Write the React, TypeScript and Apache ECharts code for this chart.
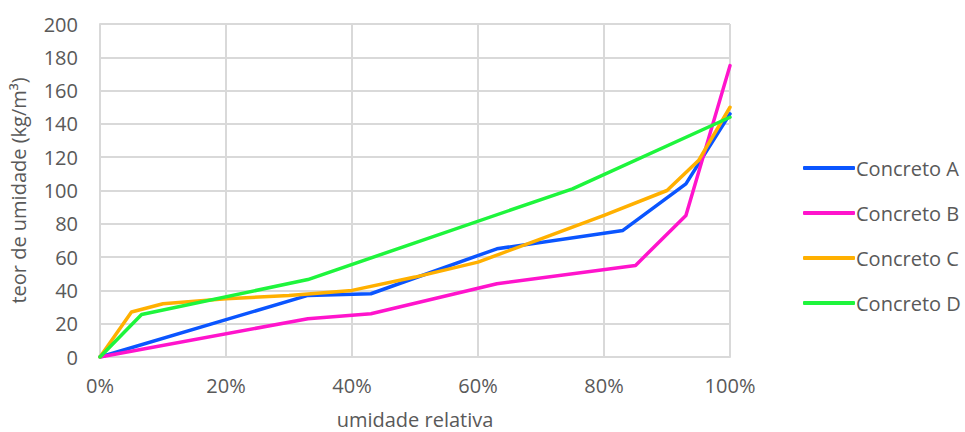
import React, { useEffect, useRef } from "react";
import * as echarts from "echarts";

const seriesNames = ["Concreto A", "Concreto B", "Concreto C", "Concreto D"];
const colors = ["#0A55FF", "#FF14CC", "#FFB000", "#1EF53C"];

const xA = [0, 0.33, 0.43, 0.63, 0.83, 0.93, 1.0];
const yA = [0, 37, 38, 65, 76, 104, 146];

const xB = [0, 0.33, 0.43, 0.63, 0.85, 0.93, 1.0];
const yB = [0, 23, 26, 44, 55, 85, 175];

const xC = [0, 0.05, 0.1, 0.2, 0.3, 0.4, 0.5, 0.6, 0.7, 0.8, 0.9, 0.95, 1.0];
const yC = [0, 27, 32, 35, 37, 40, 48, 57, 71, 85, 100, 118, 150];

const xD = [0, 0.066, 0.33, 0.75, 1.0];
const yD = [0, 25.5, 46.5, 101, 144];

const xTicks = [0, 0.2, 0.4, 0.6, 0.8, 1.0];
const yTicks = [0, 20, 40, 60, 80, 100, 120, 140, 160, 180, 200];

const allX = [xA, xB, xC, xD];
const allY = [yA, yB, yC, yD];

const FONT = "'Open Sans', 'Noto Sans', sans-serif";
const TXT = "#595959";
const FS = 20;

export default function App() {
  const ref = useRef<HTMLDivElement>(null);
  useEffect(() => {
    if (!ref.current) return;
    const chart = echarts.init(ref.current, null, { renderer: "svg" });
    chart.setOption({
      animation: false,
      backgroundColor: "#ffffff",
      textStyle: { fontFamily: FONT },
      grid: { left: 100, right: 235, top: 24, bottom: 75, containLabel: false, outerBoundsMode: "none" },
      legend: {
        orient: "vertical",
        left: 798,
        top: 153,
        itemWidth: 52,
        itemHeight: 4,
        itemGap: 25,
        icon: "roundRect",
        textStyle: { fontSize: FS, lineHeight: 20, color: TXT, fontFamily: FONT, padding: [0, 0, 0, -4] },
        data: seriesNames,
      },
      xAxis: {
        type: "value",
        min: 0,
        max: 1,
        interval: 0.2,
        name: "umidade relativa",
        nameLocation: "middle",
        nameGap: 53,
        nameTextStyle: { fontSize: FS, lineHeight: 18, color: TXT, fontFamily: FONT },
        axisLine: { show: true, lineStyle: { color: "#d9d9d9", width: 2 } },
        axisTick: { show: false },
        axisLabel: {
          fontSize: FS,
          color: TXT,
          margin: 18,
          fontFamily: FONT,
          formatter: (v: number) => (xTicks.includes(Math.round(v * 10) / 10) ? Math.round(v * 100) + "%" : ""),
        },
        splitLine: { show: true, lineStyle: { color: "#d9d9d9", width: 2 } },
      },
      yAxis: {
        type: "value",
        min: yTicks[0],
        max: yTicks[yTicks.length - 1],
        interval: 20,
        name: "teor de umidade (kg/m³)",
        nameLocation: "middle",
        nameGap: 72,
        nameTextStyle: { fontSize: FS, color: TXT, fontFamily: FONT },
        axisLine: { show: true, lineStyle: { color: "#d9d9d9", width: 2 } },
        axisTick: { show: false },
        axisLabel: { fontSize: FS, color: TXT, margin: 22, fontFamily: FONT },
        splitLine: { show: true, lineStyle: { color: "#d9d9d9", width: 2 } },
      },
      series: seriesNames.map((name, i) => ({
        name,
        type: "line",
        data: allX[i].map((x, j) => [x, allY[i][j]]),
        showSymbol: false,
        symbol: "none",
        lineStyle: { color: colors[i], width: 3.5, cap: "round", join: "round" },
        itemStyle: { color: colors[i] },
      })),
    });
    return () => chart.dispose();
  }, []);
  return <div ref={ref} style={{ width: 965, height: 432, position: "absolute", left: 0, top: 0 }} />;
}
